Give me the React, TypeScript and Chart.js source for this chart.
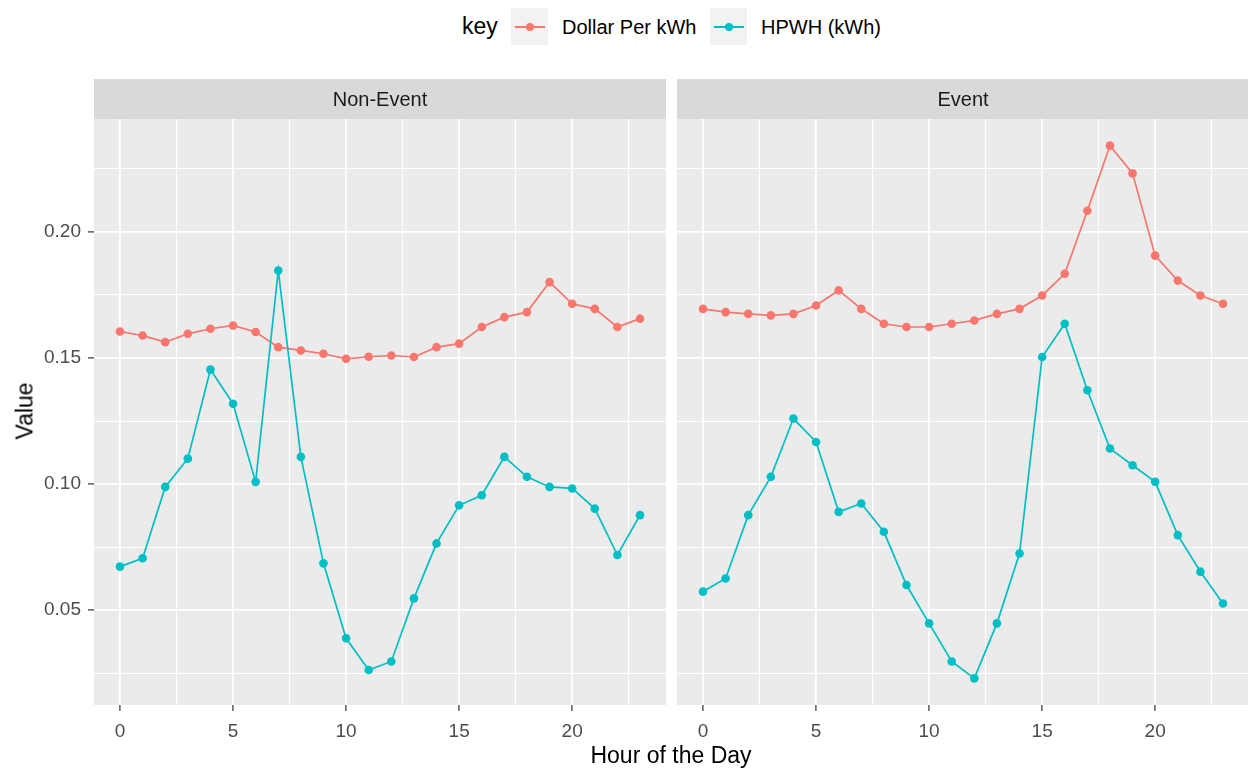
import React, { useEffect, useRef } from "react";
import { Chart, registerables } from "chart.js";

Chart.register(...registerables);

const HOURS = [0, 1, 2, 3, 4, 5, 6, 7, 8, 9, 10, 11, 12, 13, 14, 15, 16, 17, 18, 19, 20, 21, 22, 23];

const NON_EVENT_DOLLAR = [0.1605, 0.1589, 0.1563, 0.1596, 0.1616, 0.1629, 0.1603, 0.1543, 0.153, 0.1517, 0.1497, 0.1505, 0.151, 0.1504, 0.1543, 0.1557, 0.1623, 0.1662, 0.1682, 0.1801, 0.1715, 0.1695, 0.1623, 0.1656];
const NON_EVENT_HPWH = [0.0673, 0.0706, 0.0989, 0.1101, 0.1454, 0.1319, 0.1009, 0.1847, 0.1108, 0.0686, 0.0389, 0.0263, 0.0297, 0.0547, 0.0765, 0.0916, 0.0956, 0.1108, 0.1029, 0.0989, 0.0983, 0.0903, 0.0719, 0.0877];
const EVENT_DOLLAR = [0.1695, 0.1682, 0.1675, 0.1669, 0.1675, 0.1708, 0.1768, 0.1695, 0.1636, 0.1623, 0.1623, 0.1636, 0.1649, 0.1675, 0.1695, 0.1748, 0.1834, 0.2084, 0.2342, 0.2232, 0.1906, 0.1807, 0.1748, 0.1715];
const EVENT_HPWH = [0.0574, 0.0626, 0.0877, 0.1029, 0.126, 0.1167, 0.089, 0.0923, 0.0811, 0.06, 0.0448, 0.0297, 0.023, 0.0448, 0.0725, 0.1504, 0.1636, 0.1372, 0.1141, 0.1075, 0.1009, 0.0798, 0.0653, 0.0527];

const PANELS = ["Non-Event", "Event"];
const SERIES = ["Dollar Per kWh", "HPWH (kWh)"];
const LEGEND_TITLE = "key";
const X_TITLE = "Hour of the Day";
const Y_TITLE = "Value";

const X_MAJOR = [0, 5, 10, 15, 20];
const Y_MAJOR = [0.05, 0.1, 0.15, 0.2];

const X_MIN = -1.15;
const X_MAX = 24.15;
const Y_MIN = 0.01244;
const Y_MAX = 0.24476;

const RED = "#F8766D";
const CYAN = "#00BFC4";
const FONT = '"Liberation Sans", Arial, sans-serif';

function withMinors(major: number[], step: number, lo: number, hi: number) {
  const vals: number[] = [major[0] - step / 2];
  major.forEach((m) => {
    vals.push(m);
    vals.push(+(m + step / 2).toFixed(6));
  });
  return vals.filter((v) => v >= lo && v <= hi);
}

function isMajor(list: number[], v: number) {
  return list.some((m) => Math.abs(m - v) < 1e-6);
}

const stripPlugin = {
  id: "strip",
  beforeDraw(chart: any, _args: any, opts: any) {
    const { ctx, chartArea } = chart;
    ctx.save();
    ctx.fillStyle = "#EBEBEB";
    ctx.fillRect(chartArea.left, chartArea.top, chartArea.right - chartArea.left, chartArea.bottom - chartArea.top);
    ctx.fillStyle = "#D9D9D9";
    ctx.fillRect(chartArea.left, chartArea.top - 40, chartArea.right - chartArea.left, 40);
    ctx.fillStyle = "#1A1A1A";
    ctx.font = `20px ${FONT}`;
    ctx.textAlign = "center";
    ctx.textBaseline = "middle";
    ctx.fillText(opts.title, (chartArea.left + chartArea.right) / 2, chartArea.top - 19);
    ctx.restore();
  },
};

function Panel(props: { title: string; dollar: number[]; hpwh: number[]; showY: boolean; left: number; width: number }) {
  const ref = useRef<HTMLCanvasElement | null>(null);
  useEffect(() => {
    if (!ref.current) return;
    const xTicks = withMinors(X_MAJOR, 5, X_MIN, X_MAX);
    const yTicks = withMinors(Y_MAJOR, 0.05, Y_MIN, Y_MAX);
    const chart = new Chart(ref.current, {
      type: "line",
      data: {
        datasets: [
          {
            label: SERIES[0],
            data: HOURS.map((h, i) => ({ x: h, y: props.dollar[i] })),
            borderColor: RED,
            backgroundColor: RED,
            pointBackgroundColor: RED,
            pointBorderColor: RED,
            pointRadius: 4.3,
            pointBorderWidth: 0,
            borderWidth: 1.7,
            order: 1,
          },
          {
            label: SERIES[1],
            data: HOURS.map((h, i) => ({ x: h, y: props.hpwh[i] })),
            borderColor: CYAN,
            backgroundColor: CYAN,
            pointBackgroundColor: CYAN,
            pointBorderColor: CYAN,
            pointRadius: 4.3,
            pointBorderWidth: 0,
            borderWidth: 1.7,
            order: 0,
          },
        ],
      },
      options: {
        animation: false,
        responsive: false,
        events: [],
        layout: { autoPadding: false, padding: { top: 40, left: 0, right: 0, bottom: 0 } },
        plugins: {
          legend: { display: false },
          tooltip: { enabled: false },
          strip: { title: props.title },
        } as any,
        scales: {
          x: {
            type: "linear",
            min: X_MIN,
            max: X_MAX,
            border: { display: false },
            afterBuildTicks: (s: any) => {
              s.ticks = xTicks.map((v) => ({ value: v }));
            },
            afterFit: (s: any) => {
              s.height = 64;
              s.paddingLeft = 0;
              s.paddingRight = 0;
            },
            grid: {
              color: "#FFFFFF",
              lineWidth: (c: any) => (isMajor(X_MAJOR, c.tick.value) ? 1.8 : 1),
              tickColor: (c: any) => (isMajor(X_MAJOR, c.tick.value) ? "#333333" : "rgba(0,0,0,0)"),
              tickWidth: 1.2,
              tickLength: 6,
            },
            ticks: {
              autoSkip: false,
              maxRotation: 0,
              padding: 9,
              color: "#4D4D4D",
              font: { family: FONT, size: 19 },
              callback: (v: any) => (isMajor(X_MAJOR, v) ? String(v) : ""),
            },
          },
          y: {
            type: "linear",
            display: true,
            min: Y_MIN,
            max: Y_MAX,
            border: { display: false },
            afterBuildTicks: (s: any) => {
              s.ticks = yTicks.map((v) => ({ value: v }));
            },
            afterFit: (s: any) => {
              s.width = props.showY ? 94 : 0;
              s.paddingTop = 0;
              s.paddingBottom = 0;
            },
            grid: {
              color: "#FFFFFF",
              lineWidth: (c: any) => (isMajor(Y_MAJOR, c.tick.value) ? 1.8 : 1),
              tickColor: (c: any) => (props.showY && isMajor(Y_MAJOR, c.tick.value) ? "#333333" : "rgba(0,0,0,0)"),
              tickWidth: 1.2,
              tickLength: 6,
              drawTicks: props.showY,
            },
            ticks: {
              display: props.showY,
              autoSkip: false,
              padding: 7,
              color: "#4D4D4D",
              font: { family: FONT, size: 19 },
              callback: (v: any) => (isMajor(Y_MAJOR, v) ? Number(v).toFixed(2) : ""),
            },
          },
        },
      } as any,
      plugins: [stripPlugin],
    });
    return () => chart.destroy();
  }, []);
  return (
    <canvas
      ref={ref}
      width={props.width}
      height={690}
      style={{ position: "absolute", left: props.left, top: 79, width: props.width, height: 690 }}
    />
  );
}

function LegendKey(props: { left: number; color: string }) {
  return (
    <div style={{ position: "absolute", left: props.left, top: 8, width: 37, height: 37, background: "#F2F2F2" }}>
      <div style={{ position: "absolute", left: 4, top: 17.5, width: 30, height: 2, background: props.color }} />
      <div style={{ position: "absolute", left: 14.5, top: 14.5, width: 8, height: 8, borderRadius: "50%", background: props.color }} />
    </div>
  );
}

export default function App() {
  const text = (s: string, left: number, size: number, top: number) => (
    <div style={{ position: "absolute", left, top, fontSize: size, lineHeight: `${size + 6}px`, color: "#000", whiteSpace: "nowrap" }}>{s}</div>
  );
  return (
    <div style={{ position: "fixed", left: 0, top: 0, width: 1248, height: 769, overflow: "hidden", background: "#FFFFFF", fontFamily: FONT }}>
      {text(LEGEND_TITLE, 462, 23, 12)}
      <LegendKey left={511} color={RED} />
      {text(SERIES[0], 562, 20, 14)}
      <LegendKey left={710} color={CYAN} />
      {text(SERIES[1], 761, 20, 14)}
      <Panel title={PANELS[0]} dollar={NON_EVENT_DOLLAR} hpwh={NON_EVENT_HPWH} showY={true} left={0} width={666} />
      <Panel title={PANELS[1]} dollar={EVENT_DOLLAR} hpwh={EVENT_HPWH} showY={false} left={677} width={572} />
      <div style={{ position: "absolute", left: 671, top: 755, transform: "translate(-50%, -50%)", fontSize: 23, color: "#000", whiteSpace: "nowrap" }}>{X_TITLE}</div>
      <div style={{ position: "absolute", left: 25, top: 411, transform: "translate(-50%, -50%) rotate(-90deg)", fontSize: 23, color: "#000", whiteSpace: "nowrap" }}>{Y_TITLE}</div>
    </div>
  );
}
